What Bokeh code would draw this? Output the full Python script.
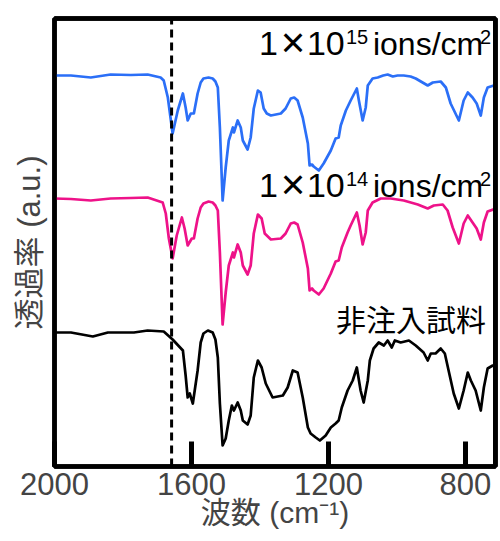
from bokeh.plotting import figure
from bokeh.models import Range1d, FixedTicker, Label, LinearAxis
from bokeh.embed import file_html
from bokeh.resources import INLINE

# ---- data (wavenumber in cm^-1, transmittance in arbitrary units, offset traces) ----
wn_blue = [2000, 1952, 1894, 1836, 1777, 1728, 1690, 1681, 1669, 1655, 1640, 1625, 1617, 1611,
           1602, 1593, 1582, 1573, 1565, 1550, 1538, 1530, 1523, 1517, 1509, 1500, 1491, 1479,
           1476, 1465, 1456, 1450, 1436, 1427, 1418, 1406, 1398, 1389, 1380, 1368, 1339, 1325,
           1310, 1300, 1290, 1275, 1260, 1255, 1248, 1243, 1228, 1214, 1193, 1179, 1170, 1164,
           1149, 1135, 1117, 1111, 1100, 1091, 1085, 1071, 1056, 1040, 1027, 1012, 998, 980, 960,
           945, 930, 910, 895, 872, 857, 843, 819, 805, 793, 779, 767, 755, 746, 735, 717, 703]
t_blue = [3.91, 3.91, 3.89, 3.92, 3.915, 3.92, 3.89, 3.86, 3.69, 3.33, 3.56, 3.73, 3.59, 3.46,
          3.53, 3.53, 3.73, 3.84, 3.88, 3.89, 3.88, 3.85, 3.79, 3.39, 2.66, 2.99, 3.26, 3.39,
          3.34, 3.46, 3.39, 3.26, 3.17, 3.29, 3.58, 3.76, 3.74, 3.58, 3.53, 3.51, 3.53, 3.58,
          3.68, 3.69, 3.66, 3.49, 3.23, 3.01, 3.02, 3.00, 2.96, 3.03, 3.16, 3.28, 3.29, 3.41,
          3.56, 3.66, 3.78, 3.66, 3.46, 3.59, 3.81, 3.88, 3.89, 3.91, 3.92, 3.90, 3.91, 3.91, 3.90,
          3.88, 3.85, 3.81, 3.84, 3.85, 3.79, 3.63, 3.46, 3.66, 3.74, 3.69, 3.63, 3.51, 3.69,
          3.79, 3.81, 3.81]

wn_pink = [2000, 1952, 1894, 1836, 1777, 1728, 1719, 1684, 1675, 1666, 1655, 1643, 1628, 1620,
           1611, 1599, 1593, 1582, 1573, 1565, 1550, 1538, 1530, 1523, 1517, 1509, 1500, 1491,
           1479, 1476, 1465, 1456, 1450, 1436, 1427, 1418, 1406, 1395, 1386, 1368, 1339, 1325,
           1310, 1300, 1290, 1275, 1260, 1255, 1248, 1243, 1228, 1214, 1193, 1179, 1170, 1161,
           1144, 1135, 1117, 1109, 1100, 1091, 1085, 1071, 1047, 1018, 980, 939, 910, 892, 866,
           852, 837, 819, 805, 793, 779, 767, 755, 746, 735, 711, 703]
t_pink = [2.68, 2.675, 2.66, 2.68, 2.685, 2.69, 2.68, 2.64, 2.53, 2.28, 2.08, 2.31, 2.49, 2.38,
          2.21, 2.28, 2.28, 2.48, 2.59, 2.63, 2.65, 2.64, 2.61, 2.56, 2.14, 1.42, 1.74, 2.01,
          2.14, 2.09, 2.22, 2.14, 2.01, 1.92, 2.01, 2.33, 2.52, 2.48, 2.33, 2.27, 2.28, 2.33,
          2.43, 2.44, 2.42, 2.24, 1.98, 1.76, 1.78, 1.76, 1.72, 1.78, 1.93, 2.05, 2.06, 2.19,
          2.34, 2.41, 2.54, 2.41, 2.22, 2.34, 2.56, 2.64, 2.68, 2.68, 2.66, 2.62, 2.58, 2.61,
          2.62, 2.56, 2.39, 2.23, 2.43, 2.51, 2.44, 2.38, 2.27, 2.44, 2.55, 2.58, 2.58]

wn_black = [2000, 1952, 1888, 1844, 1768, 1728, 1681, 1655, 1625, 1617, 1611, 1605, 1596, 1582,
            1573, 1565, 1552, 1538, 1530, 1523, 1517, 1509, 1500, 1491, 1482, 1476, 1465, 1456,
            1450, 1436, 1427, 1418, 1406, 1395, 1383, 1363, 1333, 1319, 1304, 1290, 1275, 1260,
            1252, 1237, 1225, 1208, 1193, 1179, 1170, 1161, 1144, 1129, 1117, 1106, 1097, 1085,
            1079, 1068, 1053, 1038, 1027, 1015, 1006, 989, 965, 945, 922, 910, 901, 887, 872,
            860, 849, 834, 819, 805, 793, 784, 770, 755, 746, 735, 720, 703]
t_black = [1.34, 1.34, 1.30, 1.34, 1.34, 1.36, 1.35, 1.27, 1.16, 0.91, 0.69, 0.73, 0.63, 0.96,
           1.24, 1.33, 1.36, 1.34, 1.27, 1.09, 0.63, 0.21, 0.28, 0.46, 0.61, 0.56, 0.64, 0.56,
           0.46, 0.42, 0.51, 0.89, 1.06, 0.99, 0.83, 0.69, 0.71, 0.79, 0.96, 0.94, 0.69, 0.39,
           0.33, 0.29, 0.26, 0.31, 0.39, 0.43, 0.46, 0.59, 0.76, 0.86, 0.99, 0.76, 0.64, 0.86,
           1.06, 1.18, 1.24, 1.21, 1.26, 1.19, 1.26, 1.24, 1.26, 1.21, 1.14, 1.06, 1.13, 1.13,
           1.18, 1.13, 0.96, 0.73, 0.58, 0.76, 0.94, 0.86, 0.76, 0.56, 0.79, 0.98, 1.01, 1.01]

x_ticks = [2000, 1600, 1200, 800]
marker_wn = 1658
x_lo, x_hi = 2000, 712
y_lo, y_hi = 0, 4.48

label_hi = ["1", "×", "10", "15", "ions/cm", "2"]
label_lo = ["1", "×", "10", "14", "ions/cm", "2"]
label_ref = "非注入試料"
x_title = "波数 (cm⁻¹)"
y_title = "透過率 (a.u.)"

LAT = "Liberation Sans"
JP = "Liberation Sans, Noto Sans CJK JP"

p = figure(width=500, height=541, output_backend="svg", toolbar_location=None,
           x_range=Range1d(x_lo, x_hi), y_range=Range1d(y_lo, y_hi),
           min_border_left=54, min_border_right=5, min_border_top=18, min_border_bottom=75)
p.background_fill_color = "white"
p.border_fill_color = "white"
p.grid.visible = False
p.outline_line_color = "black"
p.outline_line_width = 4.5

p.line(wn_blue, t_blue, line_color="#2b6ff7", line_width=2.7, line_join="round")
p.line(wn_pink, t_pink, line_color="#ee1289", line_width=2.7, line_join="round")
p.line(wn_black, t_black, line_color="black", line_width=2.7, line_join="round")

# dashed marker line across the full height
p.line([marker_wn, marker_wn], [y_lo, y_hi], line_color="black", line_width=3,
       line_dash="8 5")
# right side of the frame box (half of the stroke falls inside the frame)
p.line([x_hi, x_hi], [y_lo, y_hi], line_color="black", line_width=5)

xa = p.xaxis[0]
xa.ticker = FixedTicker(ticks=x_ticks)
xa.major_tick_in = 25
xa.major_tick_out = 0
xa.major_tick_line_width = 5
xa.minor_tick_line_color = None
xa.axis_line_color = "black"
xa.axis_line_width = 4.5
xa.major_label_text_font = LAT
xa.major_label_text_font_size = "31px"
xa.major_label_standoff = 6
xa.axis_label = x_title
xa.axis_label_text_font = JP
xa.axis_label_text_font_size = "30px"
xa.axis_label_text_font_style = "normal"
xa.axis_label_standoff = -2

ya = p.yaxis[0]
ya.ticker = FixedTicker(ticks=[])
ya.major_tick_in = 0
ya.major_tick_out = 0
ya.minor_tick_line_color = None
ya.axis_line_color = "black"
ya.axis_line_width = 4.5
ya.major_label_text_font_size = "0px"
ya.axis_label = y_title
ya.axis_label_text_font = JP
ya.axis_label_text_font_size = "31px"
ya.axis_label_text_font_style = "normal"
ya.axis_label_standoff = 8

# plain frame sides on top and right
for side in ("above", "right"):
    ax = LinearAxis(ticker=FixedTicker(ticks=[]), major_tick_in=0, major_tick_out=0,
                    minor_tick_line_color=None, major_label_text_font_size="0px",
                    major_label_standoff=0, axis_label_standoff=0,
                    axis_line_color="black", axis_line_width=4.5)
    p.add_layout(ax, side)

# dose annotations: pieces placed relative to an anchor (pixel offsets for typography)
anchor_x = 1400
sizes = ["34px", "42px", "34px", "20px", "32px", "20px"]
xoffs = [-1, 33, 47, 86, 113, 220]
yoffs = [15, 16, 15, 21.5, 14.3, 21.5]
aligns = ["left", "center", "left", "left", "left", "left"]
for base_y, pieces in ((4.08, label_hi), (2.66, label_lo)):
    for txt, fs, xo, yo, al in zip(pieces, sizes, xoffs, yoffs, aligns):
        p.add_layout(Label(x=anchor_x, y=base_y, text=txt, x_offset=xo, y_offset=yo,
                           text_font=LAT, text_font_size=fs, text_align=al,
                           text_baseline="middle", text_color="black"))

p.add_layout(Label(x=740, y=1.46, text=label_ref, text_font=JP, text_font_size="30px",
                   text_align="right", text_baseline="middle", text_color="black"))

open("out.html", "w").write(file_html(p, INLINE))
